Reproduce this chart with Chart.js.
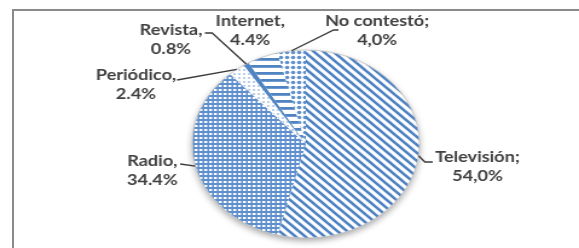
<!DOCTYPE html>
<html>
<head>
<meta charset="utf-8">
<script src="https://cdn.jsdelivr.net/npm/chart.js@4.4.1/dist/chart.umd.min.js"></script>
<style>
  html, body { margin: 0; padding: 0; background: #fff; }
  body { width: 579px; height: 248px; overflow: hidden; position: relative; }
  #frame { position: absolute; left: 12px; top: 9px; right: 0; bottom: 0;
           border-top: 2px solid #8a8a8a; border-left: 2px solid #8a8a8a; }
  #wrap { position: absolute; left: 0; top: 0; width: 479px; height: 248px;
          transform: scale(1.2088, 1); transform-origin: 0 0; }
</style>
</head>
<body>
<div id="frame"></div>
<div id="wrap"><canvas id="pie"></canvas></div>
<script>
// data
const categories = ['Televisión', 'Radio', 'Periódico', 'Revista', 'Internet', 'No contestó'];
const shares = [54.0, 34.4, 2.4, 0.8, 4.4, 4.0];
const separators = [';', ',', ',', ',', ',', ';'];

const BLUE = '#4f83c2';

// little helper to build a fill pattern
const makePattern = (w, h, draw) => {
  const c = document.createElement('canvas');
  c.width = w;
  c.height = h;
  const g = c.getContext('2d');
  g.fillStyle = '#fff';
  g.fillRect(0, 0, w, h);
  draw(g);
  return g.createPattern(c, 'repeat');
};

const patterns = [
  // diagonal stripes
  makePattern(8, 8, (g) => {
    g.strokeStyle = BLUE;
    g.lineWidth = 2.6;
    [-8, 0, 8].forEach((o) => {
      g.beginPath();
      g.moveTo(o - 1, -1);
      g.lineTo(o + 9, 9);
      g.stroke();
    });
  }),
  // fine checker
  makePattern(4, 4, (g) => {
    g.fillStyle = '#5f8fcd';
    g.fillRect(0, 0, 4, 4);
    g.fillStyle = '#ffffff';
    g.fillRect(1, 1, 2, 2);
    g.fillStyle = '#a3bfe4';
    g.fillRect(3, 1, 1, 2);
  }),
  // light dots
  makePattern(4, 4, (g) => {
    g.fillStyle = '#bcd0ec';
    g.fillRect(1, 1, 2, 2);
  }),
  BLUE,
  // horizontal stripes
  makePattern(7, 7, (g) => {
    g.fillStyle = BLUE;
    g.fillRect(0, 2, 7, 2.8);
  }),
  // dots
  makePattern(5, 5, (g) => {
    g.fillStyle = '#5f8fcd';
    g.beginPath();
    g.arc(2.5, 2.5, 1.8, 0, Math.PI * 2);
    g.fill();
  }),
];

// where each label sits (canvas space) and the bends of its leader line
const labelLayout = [
  { x: 395, y: 157, leader: [[358, 162], [351.5, 162]] },
  { x: 126, y: 161, leader: [[149, 164]] },
  { x: 112.5, y: 75, leader: [[146.5, 80]] },
  { x: 141.5, y: 30, leader: [[169.5, 33], [175.5, 33]] },
  { x: 207, y: 21, leader: null },
  { x: 312, y: 21, leader: [[280, 30], [276, 30]] },
];

const fmt = (v, sep) => {
  const s = v.toFixed(1) + '%';
  return sep === ';' ? s.replace('.', ',') : s;
};

// shadow under the pie and thin rim
const pieShadow = {
  id: 'pieShadow',
  beforeDatasetsDraw(chart) {
    const arc = chart.getDatasetMeta(0).data[0];
    const { ctx } = chart;
    ctx.save();
    ctx.shadowColor = 'rgba(0,0,0,0.35)';
    ctx.shadowBlur = 6;
    ctx.shadowOffsetY = 3;
    ctx.fillStyle = '#fff';
    ctx.beginPath();
    ctx.arc(arc.x, arc.y, arc.outerRadius, 0, Math.PI * 2);
    ctx.fill();
    ctx.restore();
  },
  afterDatasetsDraw(chart) {
    const arc = chart.getDatasetMeta(0).data[0];
    const { ctx } = chart;
    ctx.save();
    ctx.strokeStyle = 'rgba(190,190,190,0.8)';
    ctx.lineWidth = 1;
    ctx.beginPath();
    ctx.arc(arc.x, arc.y, arc.outerRadius, 0, Math.PI * 2);
    ctx.stroke();
    ctx.restore();
  },
};

// labels with leader lines
const outsideLabels = {
  id: 'outsideLabels',
  afterDraw(chart) {
    const { ctx } = chart;
    const meta = chart.getDatasetMeta(0);
    ctx.save();
    meta.data.forEach((el, i) => {
      const lay = labelLayout[i];
      const mid = (el.startAngle + el.endAngle) / 2;
      const ax = el.x + Math.cos(mid) * el.outerRadius;
      const ay = el.y + Math.sin(mid) * el.outerRadius;
      if (lay.leader) {
        ctx.strokeStyle = '#3a3a3a';
        ctx.lineWidth = 1.3;
        ctx.beginPath();
        ctx.moveTo(lay.leader[0][0], lay.leader[0][1]);
        lay.leader.slice(1).forEach((p) => ctx.lineTo(p[0], p[1]));
        ctx.lineTo(ax, ay);
        ctx.stroke();
      }
      ctx.fillStyle = '#404040';
      ctx.font = 'bold 15px Lato';
      ctx.textAlign = 'center';
      ctx.textBaseline = 'middle';
      ctx.fillText(categories[i] + separators[i], lay.x, lay.y);
      ctx.fillText(fmt(shares[i], separators[i]), lay.x, lay.y + 19);
    });
    ctx.restore();
  },
};

const chart = new Chart('pie', {
  type: 'pie',
  data: {
    labels: categories,
    datasets: [
      {
        data: shares,
        backgroundColor: patterns,
        borderWidth: 0,
      },
    ],
  },
  options: {
    responsive: true,
    maintainAspectRatio: false,
    animation: false,
    layout: { padding: { left: 159, right: 132, top: 50, bottom: 10 } },
    plugins: {
      legend: { display: false },
      tooltip: { enabled: false },
    },
  },
  plugins: [pieShadow, outsideLabels],
});
</script>
</body>
</html>
